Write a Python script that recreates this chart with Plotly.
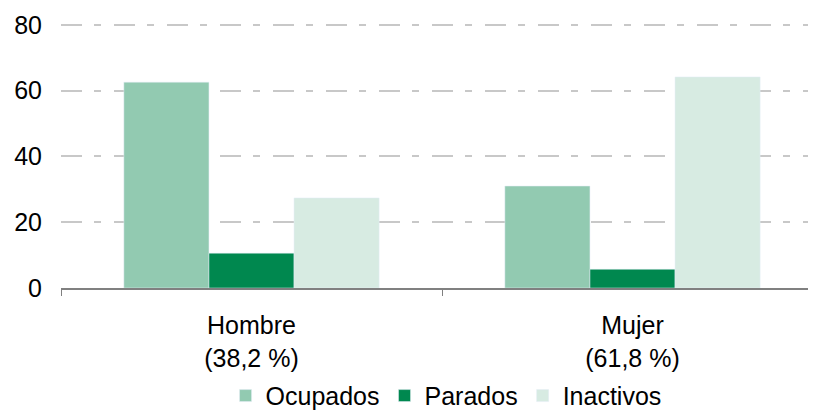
import plotly.graph_objects as go

categories = ["Hombre<br>(38,2 %)", "Mujer<br>(61,8 %)"]
ocupados = [62.6, 31.0]
parados = [10.6, 5.7]
inactivos = [27.4, 64.2]

fig = go.Figure()
fig.add_trace(go.Bar(x=categories, y=ocupados, name="Ocupados", marker_color="#92cab1"))
fig.add_trace(go.Bar(x=categories, y=parados, name="Parados", marker_color="#00884f"))
fig.add_trace(go.Bar(x=categories, y=inactivos, name="Inactivos", marker_color="#d7ebe2"))

# page body has an 8px margin, so the figure is a bit smaller than the window
fig.update_layout(
    width=808,
    height=404,
    margin=dict(l=53, r=0, t=14, b=124, autoexpand=False),
    paper_bgcolor="white",
    plot_bgcolor="white",
    font=dict(family="Liberation Sans, Arial", size=25, color="#000000"),
    barmode="group",
    bargap=0.33,
    bargroupgap=0,
    showlegend=True,
    legend=dict(
        orientation="h",
        x=0.51,
        xanchor="center",
        yref="container",
        y=0.04,
        yanchor="middle",
        font=dict(size=25),
        itemwidth=30,
        traceorder="normal",
    ),
)

fig.update_xaxes(
    range=[-0.5, 1.4816],
    automargin=False,
    showline=True,
    linecolor="#808080",
    linewidth=2,
    ticks="outside",
    tickson="boundaries",
    ticklen=6,
    tickcolor="#808080",
    showgrid=False,
    ticklabelstandoff=14,
    tickfont=dict(size=25),
)
# a little headroom above 80 so its gridline is not clipped at the edge
fig.update_yaxes(
    range=[0, 80.9],
    automargin=False,
    tickvals=[0, 20, 40, 60, 80],
    showgrid=True,
    gridcolor="#c8c8c8",
    gridwidth=1.5,
    griddash="21px,12px,7px,13px",
    zeroline=False,
    ticklabelstandoff=18,
    tickfont=dict(size=25),
)

fig.write_html("out.html")
